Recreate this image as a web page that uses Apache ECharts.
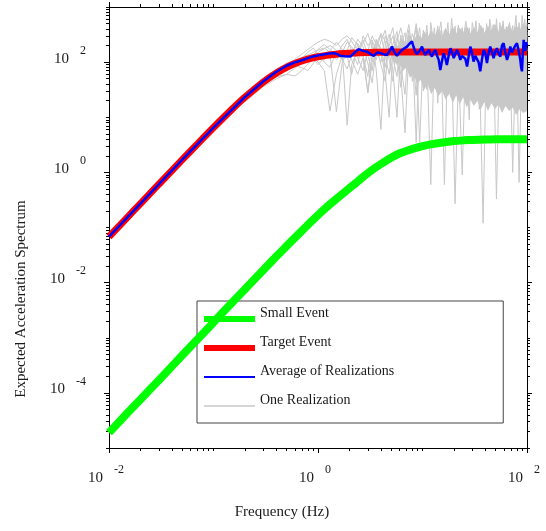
<!DOCTYPE html>
<html>
<head>
<meta charset="utf-8">
<script src="https://cdn.jsdelivr.net/npm/echarts@6/dist/echarts.min.js"></script>
<style>
  html, body { margin: 0; padding: 0; background: #ffffff; }
  #chart { width: 546px; height: 531px; }
</style>
</head>
<body>
<div id="chart"></div>
<script>
// Frequencies (Hz) for the two model spectra
const MODEL_FREQ = [0.01, 0.015, 0.02, 0.03, 0.05, 0.07, 0.1, 0.15, 0.2, 0.3, 0.4, 0.5, 0.6, 0.7, 0.85,
  1, 1.2, 1.5, 1.75, 2, 2.3, 2.6, 3, 3.5, 4, 4.5, 5, 6, 7, 8.5, 10, 12, 15, 20, 25, 30, 40, 50, 70, 100];

// Target event spectrum
const TARGET_EVENT = [0.068, 0.153, 0.2715, 0.61, 1.681, 3.26, 6.51, 13.9, 23.1, 43.7, 63.7, 80.7, 94.3, 105, 116.9,
  125.2, 132.6, 139.5, 142.9, 145.2, 147.1, 148.5, 149.7, 150.6, 151.3, 151.7, 152.1, 152.4, 152.7, 152.9,
  153.0, 153.2, 153.3, 153.3, 153.4, 153.4, 153.4, 153.4, 153.4, 153.4];

// Small event spectrum
const SMALL_EVENT = [1.9e-5, 4.3e-5, 7.6e-5, 1.7e-4, 4.75e-4, 9.3e-4, 1.9e-3, 4.3e-3, 7.6e-3, 0.017, 0.030, 0.046, 0.065, 0.087, 0.125,
  0.168, 0.23, 0.33, 0.42, 0.52, 0.64, 0.78, 0.97, 1.2, 1.42, 1.64, 1.85, 2.2, 2.45, 2.75,
  3.0, 3.22, 3.45, 3.7, 3.81, 3.88, 3.94, 3.97, 4.0, 4.0];

// Average over the realizations
const AVG_FREQ = [0.01, 0.02, 0.05, 0.1, 0.2, 0.3, 0.4, 0.5, 0.6, 0.68,
  0.8, 0.9, 1.05, 1.2, 1.41, 1.55, 1.63, 1.8, 2.04, 2.25, 2.45, 2.7, 2.94, 3.2, 3.41, 3.7, 3.95, 4.3, 4.57, 4.85,
  5.1, 5.4, 5.7, 5.9, 6.13, 6.6, 7.11, 7.5, 7.94, 8.2, 8.53, 8.85, 9.18, 9.5, 9.89, 10.2, 10.6, 11.0, 11.5, 11.9,
  12.3, 12.8, 13.3, 13.8, 14.3, 14.8, 15.3, 15.9, 16.5, 17.1, 17.8, 18.5, 19.2, 19.9, 20.6, 21.4, 22.2, 23.0, 23.8, 24.7,
  25.7, 26.7, 27.7, 28.7, 29.7, 30.8, 32, 33.2, 34.4, 35.7, 37, 38.5, 40, 41.4, 43, 44.5, 46.2, 47.9, 49.7, 51.6,
  53.6, 55.6, 57.6, 59.7, 62, 64.4, 66.8, 69.2, 71.8, 74.5, 77.3, 80.2, 83.2, 86.3, 87.9, 89.5, 91.2, 92.9, 94.6, 96.4, 98.2, 100];
const AVG_VALUES = [0.068, 0.2715, 1.68, 6.5, 23.3, 45, 67, 86, 99, 106,
  118, 127, 135, 141, 146, 138, 130, 128, 126, 150, 172, 160, 155, 140, 130, 150, 146, 138, 135, 160,
  191, 150, 130, 142, 155, 175, 191, 215, 236, 190, 155, 140, 130, 165, 191, 160, 135, 150, 167, 140,
  126, 150, 167, 130, 110, 72, 100, 145, 120, 89, 130, 179, 150, 118, 140, 167, 140, 110, 130, 140,
  115, 83, 130, 191, 150, 102, 130, 126, 100, 68, 110, 167, 140, 96, 150, 191, 150, 118, 155, 179,
  140, 126, 200, 221, 150, 110, 140, 191, 150, 145, 200, 221, 160, 110, 80, 68, 140, 253, 190, 160, 230, 200];

// Frequencies shared by the individual realizations
const REAL_FREQ = [0.2, 0.3, 0.4, 0.5, 0.6, 0.7, 0.8, 0.9, 1.0, 1.15, 1.3, 1.5, 1.7, 1.9, 2.1, 2.4, 2.7, 3.0, 3.3, 3.6,
  4.0, 4.4, 4.8, 5.2, 5.7, 6.2, 6.8, 7.4, 8.0, 8.7, 9.4, 10.2, 11, 12, 13, 14, 15, 16.2, 17.5, 19,
  20.5, 22, 24, 26, 28, 30, 32.5, 35, 38, 41, 44, 47.5, 51, 55, 59, 63.5, 68, 73, 78.5, 84, 90, 95, 100];

const REALIZATION_1 = [24, 47, 71, 92, 108, 122, 135, 150, 165, 180, 150, 110, 150, 230, 190, 120, 70, 160, 300, 210,
  90, 45, 260, 420, 130, 35, 220, 480, 160, 25, 300, 110, 470, 65, 260, 18, 380, 210, 55, 620,
  130, 310, 28, 420, 95, 520, 210, 14, 360, 160, 470, 42, 610, 110, 320, 22, 520, 190, 700, 65, 420, 260, 470];
const REALIZATION_2 = [20, 38, 54, 60, 56, 70, 92, 120, 150, 175, 200, 165, 115, 75, 135, 260, 190, 95, 42, 170,
  310, 130, 60, 210, 360, 85, 26, 310, 190, 420, 75, 260, 32, 520, 170, 310, 85, 380, 250, 105,
  0.27, 55, 310, 160, 9, 360, 105, 510, 65, 310, 160, 480, 260, 400, 85, 360, 45, 310, 160, 520, 110, 600, 210];
const REALIZATION_3 = [22, 44, 66, 88, 112, 140, 170, 200, 230, 260, 240, 200, 260, 300, 240, 160, 220, 330, 180, 110,
  240, 380, 140, 70, 10, 200, 340, 90, 250, 130, 3.5, 180, 350, 120, 420, 70, 280, 150, 520, 40,
  260, 180, 420, 75, 310, 140, 560, 90, 0.12, 210, 380, 120, 290, 45, 480, 170, 330, 1.0, 250, 420, 130, 380, 300];
const REALIZATION_4 = [19, 36, 50, 60, 78, 95, 110, 125, 100, 70, 13, 60, 130, 170, 110, 60, 120, 28, 150, 240,
  180, 80, 200, 300, 150, 60, 5.2, 150, 330, 200, 100, 380, 140, 0.6, 200, 450, 160, 60, 330, 200,
  450, 110, 210, 550, 180, 40, 300, 180, 420, 120, 30, 330, 0.33, 210, 560, 130, 280, 85, 420, 0.66, 260, 150, 520];
const REALIZATION_5 = [23, 42, 62, 75, 85, 80, 70, 95, 130, 110, 160, 230, 170, 7.2, 90, 170, 250, 130, 70, 210,
  330, 240, 110, 45, 240, 420, 180, 70, 200, 3.5, 250, 160, 60, 250, 110, 380, 220, 0.6, 180, 300,
  80, 470, 160, 240, 55, 260, 150, 380, 170, 60, 280, 170, 420, 140, 260, 60, 350, 240, 45, 310, 200, 80, 350];
const REALIZATION_6 = [21, 40, 58, 72, 90, 112, 128, 115, 90, 120, 145, 12.6, 95, 160, 280, 200, 140, 28, 100, 260,
  150, 60, 10, 160, 280, 200, 110, 300, 120, 260, 55, 200, 300, 85, 320, 150, 45, 280, 90, 400,
  240, 120, 0.9, 200, 420, 100, 350, 240, 35, 500, 200, 280, 80, 520, 220, 440, 120, 340, 90, 240, 450, 35, 300];
const REALIZATION_7 = [25, 48, 74, 96, 104, 110, 102, 130, 170, 210, 170, 130, 200, 260, 160, 90, 300, 200, 250, 75,
  6, 200, 320, 180, 90, 260, 140, 380, 45, 180, 420, 50, 230, 140, 50, 260, 540, 100, 200, 140,
  350, 30, 250, 350, 140, 300, 60, 210, 280, 90, 600, 240, 150, 330, 35, 250, 170, 460, 110, 180, 35, 330, 160];
const REALIZATION_8 = [22, 41, 60, 80, 100, 118, 150, 180, 140, 100, 80, 150, 110, 130, 60, 220, 130, 55, 250, 160,
  100, 300, 180, 120, 55, 310, 90, 230, 170, 500, 190, 30, 170, 300, 100, 240, 130, 320, 25, 240,
  160, 420, 170, 20, 260, 200, 35, 300, 120, 380, 100, 220, 130, 280, 150, 20, 230, 130, 300, 140, 700, 180, 400];
const REALIZATIONS = [REALIZATION_1, REALIZATION_2, REALIZATION_3, REALIZATION_4,
  REALIZATION_5, REALIZATION_6, REALIZATION_7, REALIZATION_8];

// Range covered by the bulk of the realizations at high frequency
const SPREAD_FREQ = [5, 5.5, 6, 6.5, 7, 7.6, 8.2, 8.9, 9.6, 10.4, 11.2, 12.1, 13.1, 14.2, 15.4, 16.6, 18, 19.5, 21, 22.7,
  24.5, 26.5, 28.7, 31, 33.5, 36.2, 39.1, 42.3, 45.7, 49.4, 53.4, 57.7, 62.4, 67.4, 72.9, 78.8, 85.2, 92.1, 100];
const SPREAD_UPPER = [170, 210, 190, 260, 220, 300, 240, 330, 260, 360, 280, 380, 300, 400, 290, 420, 320, 440, 330, 420,
  340, 460, 330, 440, 350, 480, 340, 450, 360, 500, 350, 460, 370, 500, 360, 470, 380, 510, 420];
const SPREAD_LOWER = [120, 95, 100, 70, 80, 52, 60, 40, 48, 32, 40, 26, 34, 24, 30, 21, 27, 18, 25, 17,
  23, 15, 21, 16, 20, 14, 19, 13, 18, 14, 17, 12, 16, 13, 15, 11, 14, 12, 13];

// Axis extents and labelled decades
const X_RANGE = [0.01, 100];
const Y_RANGE = [1e-5, 1e3];
const X_LABELS = [0.01, 1, 100];
const Y_LABELS = [1e-4, 1e-2, 1, 100];

const FONT = '"Liberation Serif", "DejaVu Serif", serif';
const INK = '#1a1a1a';
const REALIZATION_GREY = '#c8c8c8';

// Short ticks at 1..9 x 10^k, leaving out the labelled decades
function minorTickValues(range, labelled) {
  const out = [];
  const lo = Math.round(Math.log10(range[0]));
  const hi = Math.round(Math.log10(range[1]));
  for (let e = lo; e <= hi; e++) {
    for (let m = 1; m <= 9; m++) {
      const v = +(m * Math.pow(10, e)).toPrecision(6);
      if (v < range[0] || v > range[1]) continue;
      if (m === 1 && labelled.some(l => Math.abs(Math.log10(l) - e) < 1e-9)) continue;
      out.push(v);
    }
  }
  return out;
}

function pairs(xs, ys) { return xs.map((x, i) => [x, ys[i]]); }

function powerLabel(v) {
  const e = Math.round(Math.log10(v));
  return '{m|10}{e|' + e + '}';
}

const richLabel = {
  m: { fontFamily: FONT, fontSize: 15, color: INK },
  e: { fontFamily: FONT, fontSize: 12, color: INK, padding: [0, 0, 16, 11] }
};

function logAxis(dim, position, range, major, minor, isMajor, showLabel) {
  const ax = {
    type: 'log',
    logBase: 10,
    min: range[0],
    max: range[1],
    position: position,
    axisLine: { show: true, onZero: false, lineStyle: { color: '#000', width: 1 } },
    axisTick: { show: true, inside: false, length: isMajor ? 5 : 3,
      lineStyle: { color: '#000', width: 1 }, customValues: isMajor ? major : minor },
    minorTick: { show: false },
    splitLine: { show: false },
    axisLabel: { show: false },
    axisPointer: { show: false }
  };
  if (showLabel) {
    ax.axisLabel = {
      show: true,
      customValues: major,
      formatter: powerLabel,
      rich: richLabel
    };
    if (dim === 'x') {
      ax.axisLabel.margin = 16;
      ax.axisLabel.align = 'center';
      ax.axisLabel.verticalAlign = 'top';
      ax.axisLabel.padding = [0, 6, 0, 0];
    } else {
      ax.axisLabel.margin = 23;
      ax.axisLabel.align = 'right';
      ax.axisLabel.verticalAlign = 'middle';
      ax.axisLabel.padding = [0, 0, 7, 0];
    }
  }
  return ax;
}

const xMinor = minorTickValues(X_RANGE, X_LABELS);
const yMinor = minorTickValues(Y_RANGE, Y_LABELS);

const series = [];

// Dense spread of the realizations, drawn as one filled outline
series.push({
  name: 'spread', type: 'custom', silent: true, z: 1, clip: true,
  data: pairs(SPREAD_FREQ, SPREAD_UPPER),
  renderItem: function (params, api) {
    if (params.dataIndex !== 0) return null;
    const pts = [];
    SPREAD_FREQ.forEach((f, i) => pts.push(api.coord([f, SPREAD_UPPER[i]])));
    for (let i = SPREAD_FREQ.length - 1; i >= 0; i--) pts.push(api.coord([SPREAD_FREQ[i], SPREAD_LOWER[i]]));
    return { type: 'polygon', shape: { points: pts }, style: { fill: REALIZATION_GREY } };
  }
});

REALIZATIONS.forEach(vals => {
  series.push({
    name: 'One Realization', type: 'line', data: pairs(REAL_FREQ, vals),
    symbol: 'none', silent: true, z: 2,
    lineStyle: { color: REALIZATION_GREY, width: 1 }, itemStyle: { color: REALIZATION_GREY }
  });
});
series.push({
  name: 'Target Event', type: 'line', data: pairs(MODEL_FREQ, TARGET_EVENT),
  symbol: 'none', silent: true, z: 3, smooth: 0.2,
  lineStyle: { color: '#ff0000', width: 7 }, itemStyle: { color: '#ff0000' }
});
series.push({
  name: 'Small Event', type: 'line', data: pairs(MODEL_FREQ, SMALL_EVENT),
  symbol: 'none', silent: true, z: 4, smooth: 0.2,
  lineStyle: { color: '#00ff00', width: 8 }, itemStyle: { color: '#00ff00' }
});
series.push({
  name: 'Average of Realizations', type: 'line', data: pairs(AVG_FREQ, AVG_VALUES),
  symbol: 'none', silent: true, z: 5,
  lineStyle: { color: '#0000ff', width: 2.5 }, itemStyle: { color: '#0000ff' }
});

const chart = echarts.init(document.getElementById('chart'), null, { renderer: 'canvas' });
chart.setOption({
  animation: false,
  backgroundColor: '#ffffff',
  grid: { left: 109, right: 19, top: 7, bottom: 83, containLabel: false },
  xAxis: [
    logAxis('x', 'bottom', X_RANGE, X_LABELS, xMinor, true, true),
    logAxis('x', 'bottom', X_RANGE, X_LABELS, xMinor, false, false),
    logAxis('x', 'top', X_RANGE, X_LABELS, xMinor, true, false),
    logAxis('x', 'top', X_RANGE, X_LABELS, xMinor, false, false)
  ],
  yAxis: [
    logAxis('y', 'left', Y_RANGE, Y_LABELS, yMinor, true, true),
    logAxis('y', 'left', Y_RANGE, Y_LABELS, yMinor, false, false),
    logAxis('y', 'right', Y_RANGE, Y_LABELS, yMinor, true, false),
    logAxis('y', 'right', Y_RANGE, Y_LABELS, yMinor, false, false)
  ],
  legend: {
    orient: 'vertical',
    left: 197,
    top: 301,
    padding: [5, 109, 8, 7],
    itemWidth: 51,
    itemHeight: 14,
    itemGap: 7,
    selectedMode: false,
    backgroundColor: '#ffffff',
    borderColor: '#444444',
    borderWidth: 1,
    borderRadius: 0,
    formatter: function (name) { return '{t|' + name + '}\n{s| }'; },
    textStyle: {
      fontFamily: FONT, fontSize: 14, color: INK,
      rich: {
        t: { fontFamily: FONT, fontSize: 14, color: INK, lineHeight: 16 },
        s: { fontSize: 2, lineHeight: 12 }
      }
    },
    data: [
      { name: 'Small Event', icon: 'path://M0,0H51V6H0Z', itemStyle: { color: '#00ff00' } },
      { name: 'Target Event', icon: 'path://M0,0H51V6H0Z', itemStyle: { color: '#ff0000' } },
      { name: 'Average of Realizations', icon: 'path://M0,0H51V2H0Z', itemStyle: { color: '#0000ff' } },
      { name: 'One Realization', icon: 'path://M0,0H51V2H0Z', itemStyle: { color: '#d6d6d6' } }
    ]
  },
  graphic: [
    { type: 'text', x: 282, y: 512, silent: true,
      style: { text: 'Frequency (Hz)', font: '15px ' + FONT, fill: INK, align: 'center', verticalAlign: 'middle' } },
    { type: 'text', x: 21, y: 299, rotation: Math.PI / 2, silent: true,
      style: { text: 'Expected Acceleration Spectrum', font: '15px ' + FONT, fill: INK, align: 'center', verticalAlign: 'middle' } }
  ],
  series: series
});
</script>
</body>
</html>
